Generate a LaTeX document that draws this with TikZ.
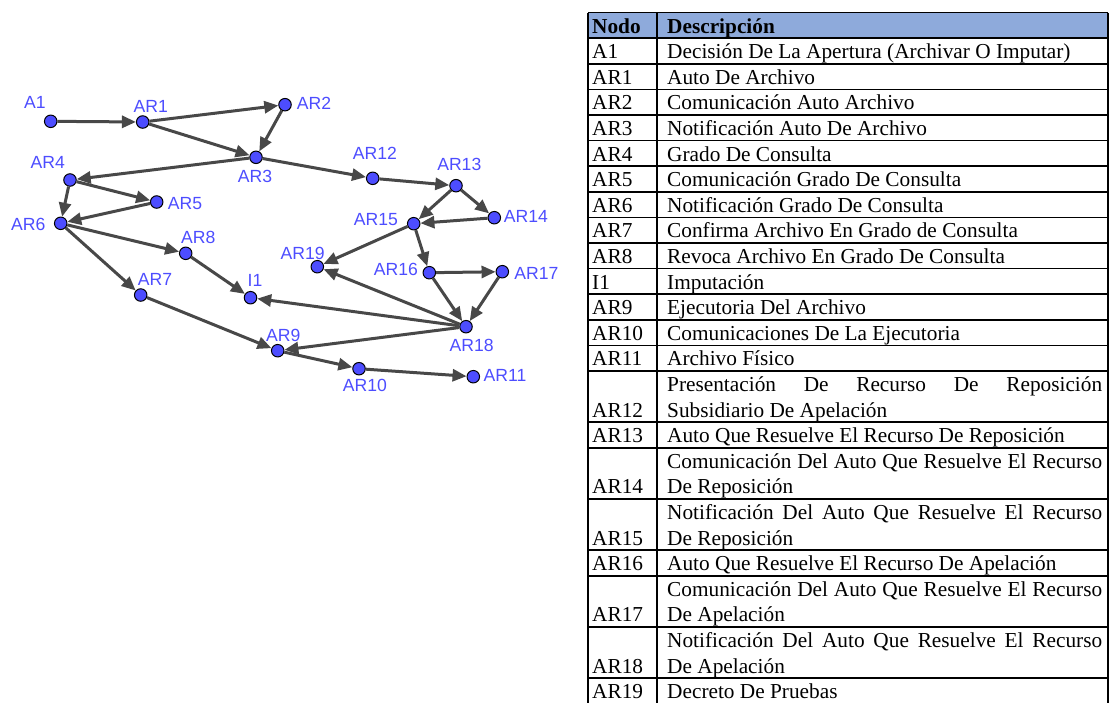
\documentclass[tikz,border=0pt]{standalone}
\usepackage{fontspec}
\setmainfont{Liberation Serif}
\newfontfamily\lblsans{Liberation Sans}
\usepackage{tikz}
\usetikzlibrary{arrows.meta}
\definecolor{ptblue}{RGB}{77,77,255}
\definecolor{edgec}{RGB}{72,72,72}
\definecolor{hdrblue}{RGB}{142,170,219}
\newcommand{\lblfont}{\lblsans\fontsize{17.6}{20}\selectfont}
\newcommand{\cellfont}{\fontsize{21.3}{25.6}\selectfont}
\newcommand{\jline}[1]{\makebox[435pt][s]{#1}}

\begin{document}
\begin{tikzpicture}[
  x=1pt,y=-1pt,
  pt/.style={circle,draw=black,line width=1pt,fill=ptblue,minimum size=12.5pt,inner sep=0pt},
  lbl/.style={text=ptblue,font=\lblfont,inner sep=0pt},
  ar/.style={draw=edgec,line width=3pt,-{Triangle[length=14pt,width=12pt]}},
  cell/.style={anchor=base west,inner sep=0pt,font=\cellfont},
  grid/.style={draw=black,line width=1.6pt}
]
\useasboundingbox (0,0) rectangle (1110,702);
% graph
\node[pt] (A1) at (50.7,121.3) {};
\node[pt] (AR1) at (142.7,122) {};
\node[pt] (AR2) at (285,104.7) {};
\node[pt] (AR3) at (256,157.3) {};
\node[pt] (AR4) at (70,180) {};
\node[pt] (AR5) at (156.7,202) {};
\node[pt] (AR6) at (60.7,223.3) {};
\node[pt] (AR7) at (140.7,295) {};
\node[pt] (AR8) at (185.7,253.3) {};
\node[pt] (I1) at (250.5,297.7) {};
\node[pt] (AR9) at (277.7,350.7) {};
\node[pt] (AR10) at (359,368.7) {};
\node[pt] (AR11) at (473.3,376.7) {};
\node[pt] (AR12) at (372.7,178.3) {};
\node[pt] (AR13) at (456,185.7) {};
\node[pt] (AR14) at (494.3,217.7) {};
\node[pt] (AR15) at (413.7,223.7) {};
\node[pt] (AR16) at (429.3,272.7) {};
\node[pt] (AR17) at (502.3,271.7) {};
\node[pt] (AR18) at (466,326.7) {};
\node[pt] (AR19) at (317.3,266.7) {};
\node[lbl] (tA1) at (35,102.7) {A1};
\node[lbl] (tAR1) at (150.7,106) {AR1};
\node[lbl] (tAR2) at (314,103) {AR2};
\node[lbl] (tAR3) at (255,176) {AR3};
\node[lbl] (tAR4) at (47.7,162) {AR4};
\node[lbl] (tAR5) at (185,204) {AR5};
\node[lbl] (tAR6) at (28.3,224) {AR6};
\node[lbl] (tAR7) at (155,279) {AR7};
\node[lbl] (tAR8) at (198.3,237) {AR8};
\node[lbl] (tI1) at (255,280) {I1};
\node[lbl] (tAR9) at (283.3,335) {AR9};
\node[lbl] (tAR10) at (365,385.7) {AR10};
\node[lbl] (tAR11) at (505,375) {AR11};
\node[lbl] (tAR12) at (375,153.3) {AR12};
\node[lbl] (tAR13) at (459.3,164.3) {AR13};
\node[lbl] (tAR14) at (526,216.7) {AR14};
\node[lbl] (tAR15) at (376,219.3) {AR15};
\node[lbl] (tAR16) at (396,269.3) {AR16};
\node[lbl] (tAR17) at (536.5,273.3) {AR17};
\node[lbl] (tAR18) at (471.7,345) {AR18};
\node[lbl] (tAR19) at (302.7,253.3) {AR19};
\draw[ar] (A1) -- (AR1);
\draw[ar] (AR1) -- (AR2);
\draw[ar] (AR1) -- (AR3);
\draw[ar] (AR2) -- (AR3);
\draw[ar] (AR3) -- (AR4);
\draw[ar] (AR3) -- (AR12);
\draw[ar] (AR4) -- (AR5);
\draw[ar] (AR4) -- (AR6);
\draw[ar] (AR5) -- (AR6);
\draw[ar] (AR6) -- (AR8);
\draw[ar] (AR6) -- (AR7);
\draw[ar] (AR8) -- (I1);
\draw[ar] (AR7) -- (AR9);
\draw[ar] (AR12) -- (AR13);
\draw[ar] (AR13) -- (AR15);
\draw[ar] (AR13) -- (AR14);
\draw[ar] (AR14) -- (AR15);
\draw[ar] (AR15) -- (AR19);
\draw[ar] (AR15) -- (AR16);
\draw[ar] (AR16) -- (AR17);
\draw[ar] (AR16) -- (AR18);
\draw[ar] (AR17) -- (AR18);
\draw[ar] (AR18) -- (AR19);
\draw[ar] (AR18) -- (I1);
\draw[ar] (AR18) -- (AR9);
\draw[ar] (AR9) -- (AR10);
\draw[ar] (AR10) -- (AR11);
% table
\fill[hdrblue] (588,12.5) rectangle (1108,38.1);
\foreach \k in {0,...,14,16,17,19,21,22,24,26,27}
  \draw[grid] (588,{12.5+25.6*\k}) -- (1108,{12.5+25.6*\k});
\draw[grid] (588,12.5) -- (588,703.7);
\draw[grid] (657,12.5) -- (657,703.7);
\draw[grid] (1108,12.5) -- (1108,703.7);
\node[cell] (n0) at (592,33) {\bfseries Nodo};
\node[cell] (d0) at (667,33) {\bfseries Descripción};
\node[cell] (nA1) at (592,58.6) {A1};
\node[cell] (dA1) at (667,58.6) {Decisión De La Apertura (Archivar O Imputar)};
\node[cell] (nAR1) at (592,84.2) {AR1};
\node[cell] (dAR1) at (667,84.2) {Auto De Archivo};
\node[cell] (nAR2) at (592,109.8) {AR2};
\node[cell] (dAR2) at (667,109.8) {Comunicación Auto Archivo};
\node[cell] (nAR3) at (592,135.4) {AR3};
\node[cell] (dAR3) at (667,135.4) {Notificación Auto De Archivo};
\node[cell] (nAR4) at (592,161) {AR4};
\node[cell] (dAR4) at (667,161) {Grado De Consulta};
\node[cell] (nAR5) at (592,186.6) {AR5};
\node[cell] (dAR5) at (667,186.6) {Comunicación Grado De Consulta};
\node[cell] (nAR6) at (592,212.2) {AR6};
\node[cell] (dAR6) at (667,212.2) {Notificación Grado De Consulta};
\node[cell] (nAR7) at (592,237.8) {AR7};
\node[cell] (dAR7) at (667,237.8) {Confirma Archivo En Grado de Consulta};
\node[cell] (nAR8) at (592,263.4) {AR8};
\node[cell] (dAR8) at (667,263.4) {Revoca Archivo En Grado De Consulta};
\node[cell] (nI1) at (592,289) {I1};
\node[cell] (dI1) at (667,289) {Imputación};
\node[cell] (nAR9) at (592,314.6) {AR9};
\node[cell] (dAR9) at (667,314.6) {Ejecutoria Del Archivo};
\node[cell] (nAR10) at (592,340.2) {AR10};
\node[cell] (dAR10) at (667,340.2) {Comunicaciones De La Ejecutoria};
\node[cell] (nAR11) at (592,365.8) {AR11};
\node[cell] (dAR11) at (667,365.8) {Archivo Físico};
\node[cell] (dAR12a) at (667,391.4) {\jline{Presentación De Recurso De Reposición}};
\node[cell] (nAR12) at (592,417) {AR12};
\node[cell] (dAR12b) at (667,417) {Subsidiario De Apelación};
\node[cell] (nAR13) at (592,442.6) {AR13};
\node[cell] (dAR13) at (667,442.6) {Auto Que Resuelve El Recurso De Reposición};
\node[cell] (dAR14a) at (667,468.2) {\jline{Comunicación Del Auto Que Resuelve El Recurso}};
\node[cell] (nAR14) at (592,493.8) {AR14};
\node[cell] (dAR14b) at (667,493.8) {De Reposición};
\node[cell] (dAR15a) at (667,519.4) {\jline{Notificación Del Auto Que Resuelve El Recurso}};
\node[cell] (nAR15) at (592,545) {AR15};
\node[cell] (dAR15b) at (667,545) {De Reposición};
\node[cell] (nAR16) at (592,570.6) {AR16};
\node[cell] (dAR16) at (667,570.6) {Auto Que Resuelve El Recurso De Apelación};
\node[cell] (dAR17a) at (667,596.2) {\jline{Comunicación Del Auto Que Resuelve El Recurso}};
\node[cell] (nAR17) at (592,621.8) {AR17};
\node[cell] (dAR17b) at (667,621.8) {De Apelación};
\node[cell] (dAR18a) at (667,647.4) {\jline{Notificación Del Auto Que Resuelve El Recurso}};
\node[cell] (nAR18) at (592,673) {AR18};
\node[cell] (dAR18b) at (667,673) {De Apelación};
\node[cell] (nAR19) at (592,698.6) {AR19};
\node[cell] (dAR19) at (667,698.6) {Decreto De Pruebas};
\end{tikzpicture}
\end{document}
